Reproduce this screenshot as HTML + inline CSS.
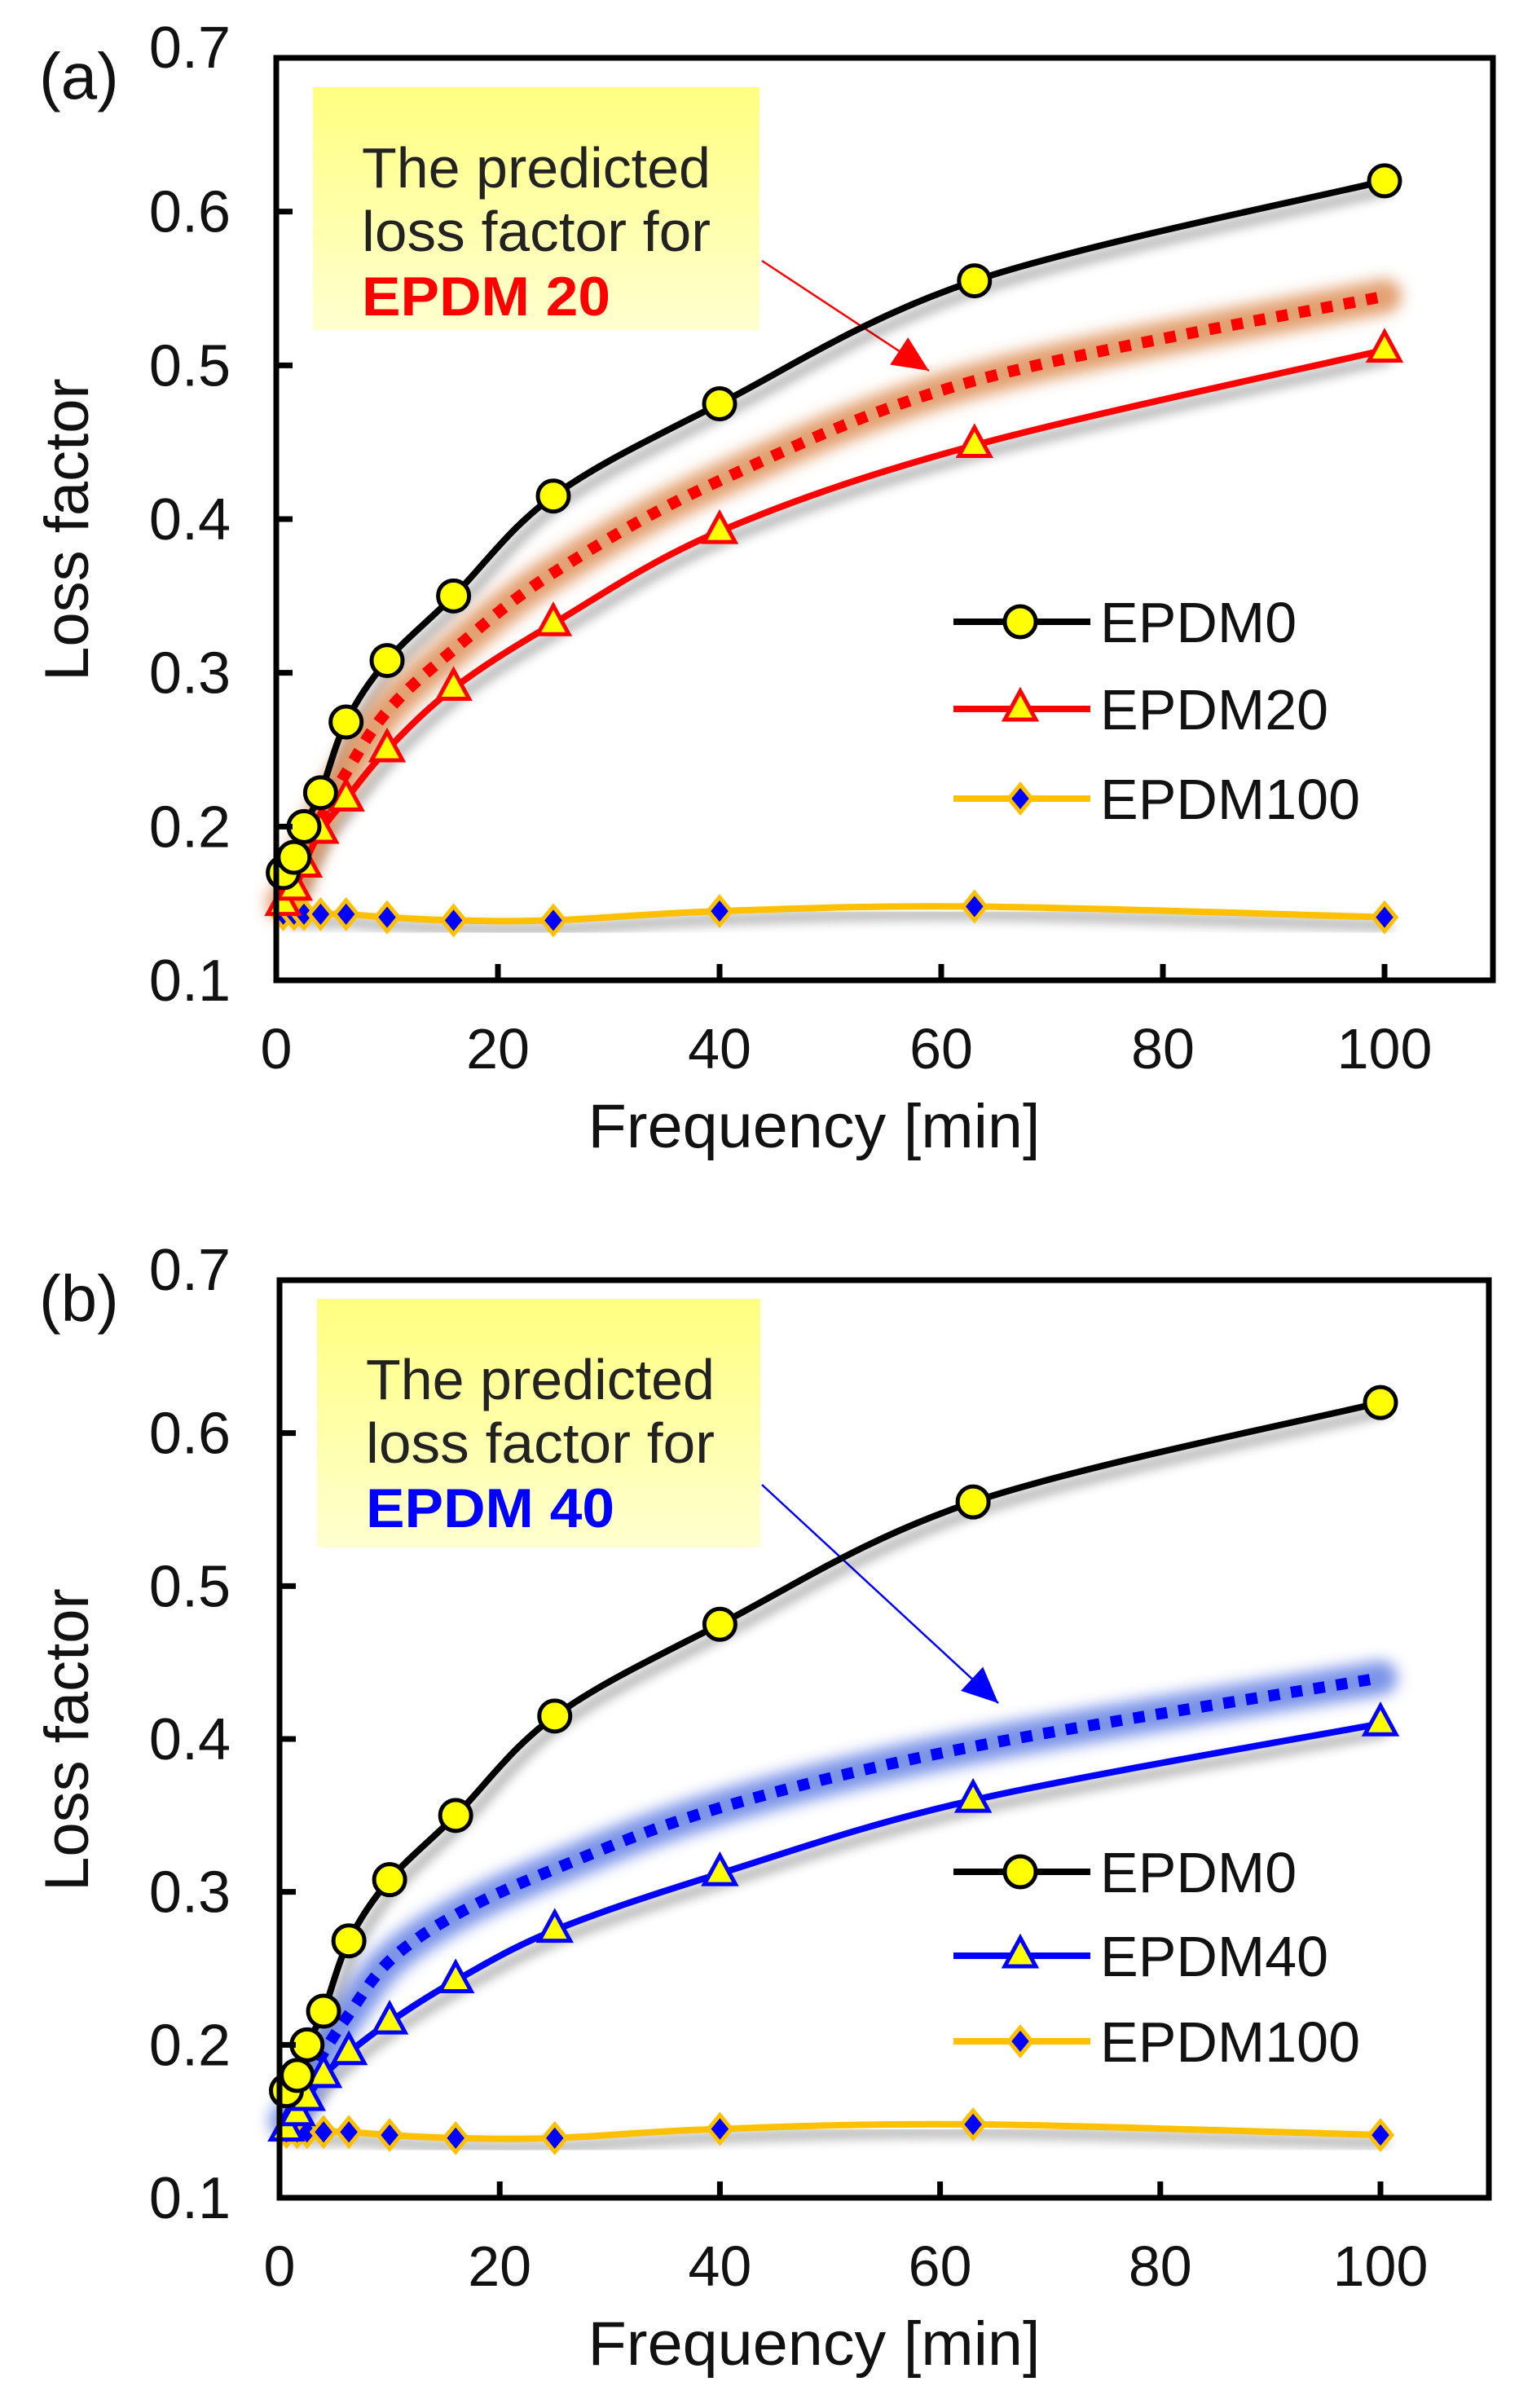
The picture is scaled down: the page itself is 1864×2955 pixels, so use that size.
<!DOCTYPE html>
<html><head><meta charset="utf-8">
<style>
html,body{margin:0;padding:0;background:#fff;}
svg{display:block;font-family:"Liberation Sans",Arial,sans-serif;}
</style></head>
<body>
<svg id="fig" width="1864" height="2955" viewBox="0 0 1864 2955" xmlns="http://www.w3.org/2000/svg">
<defs>
<filter id="shadow" x="-20%" y="-20%" width="140%" height="140%"><feGaussianBlur stdDeviation="7"/></filter>
<filter id="glow" x="-20%" y="-20%" width="140%" height="140%"><feGaussianBlur stdDeviation="9"/></filter>
<linearGradient id="yb" x1="0" y1="0" x2="0" y2="1"><stop offset="0" stop-color="#ffff80"/><stop offset="1" stop-color="#ffffd0"/></linearGradient>
</defs>
</svg>
<script>
const freq = [0.63,1.6,2.5,4,6.3,10,16,25,40,63,100];
const epdm0 = [0.17,0.18,0.2,0.222,0.268,0.308,0.35,0.415,0.475,0.555,0.62];
const epdm20 = [0.15,0.16,0.175,0.197,0.218,0.25,0.29,0.332,0.392,0.448,0.51];
const epdm40 = [0.145,0.155,0.165,0.18,0.195,0.215,0.242,0.275,0.312,0.36,0.41];
const epdm100 = [0.143,0.143,0.143,0.143,0.143,0.141,0.139,0.139,0.145,0.148,0.141];
const pred20 = [0.15,0.162,0.18,0.205,0.235,0.275,0.315,0.365,0.425,0.49,0.545];
const pred40 = [0.15,0.16,0.175,0.195,0.22,0.255,0.285,0.315,0.355,0.395,0.44];
const xTicks = [0,20,40,60,80,100];
const yTicks = [0.1,0.2,0.3,0.4,0.5,0.6,0.7];

const NS='http://www.w3.org/2000/svg';
const svg=document.getElementById('fig');
function mk(tag,attrs,parent){const e=document.createElementNS(NS,tag);for(const k in attrs)e.setAttribute(k,attrs[k]);(parent||svg).appendChild(e);return e;}
function smooth(pts){let d='M'+pts[0][0]+','+pts[0][1];for(let i=0;i<pts.length-1;i++){const p0=pts[Math.max(0,i-1)],p1=pts[i],p2=pts[i+1],p3=pts[Math.min(pts.length-1,i+2)];const c1=[p1[0]+(p2[0]-p0[0])/6,p1[1]+(p2[1]-p0[1])/6],c2=[p2[0]-(p3[0]-p1[0])/6,p2[1]-(p3[1]-p1[1])/6];d+=' C'+c1[0]+','+c1[1]+' '+c2[0]+','+c2[1]+' '+p2[0]+','+p2[1];}return d;}

function panel(cfg){
  const g=mk('g',{});
  
  
  const L=cfg.L,R=cfg.R,T=cfg.T,B=cfg.B,x100=cfg.x100;
  const sx=v=>L+(x100-L)*v/100;
  const sy=v=>B-(B-T)*(v-0.1)/0.6;
  const box=mk('rect',{x:cfg.bx,y:cfg.by,width:cfg.bw,height:cfg.bh,fill:'url(#yb)'},g);
  
  
  const lines=['The predicted','loss factor for'];
  lines.forEach((t,i)=>{const e=mk('text',{x:cfg.bx+60,y:cfg.by+(i===0?123:201),'font-size':70,fill:'#222',textLength:428,lengthAdjust:'spacingAndGlyphs'},g);e.textContent=t;
    
    });
  const em=mk('text',{x:cfg.bx+60,y:cfg.by+280,'font-size':68,'font-weight':'bold',fill:cfg.col,textLength:305,lengthAdjust:'spacingAndGlyphs'},g);em.textContent=cfg.label;
  
  
  const ar=mk('line',{x1:cfg.a[0],y1:cfg.a[1],x2:cfg.a[2],y2:cfg.a[3],stroke:cfg.col,'stroke-width':2.5},g);
  
  
  const ang=Math.atan2(cfg.a[3]-cfg.a[1],cfg.a[2]-cfg.a[0]);const hx=cfg.a[2],hy=cfg.a[3];
  const hl=44,hw=20;
  const bxp=hx-hl*Math.cos(ang),byp=hy-hl*Math.sin(ang);
  const head=mk('polygon',{points:`${hx},${hy} ${bxp-hw*Math.sin(ang)},${byp+hw*Math.cos(ang)} ${bxp+hw*Math.sin(ang)},${byp-hw*Math.cos(ang)}`,fill:cfg.col},g);
  
  
  const P=arr=>freq.map((f,i)=>[sx(f),sy(arr[i])]);
  const series=[{d:epdm0,c:'#000',m:'circle',n:'epdm0'},{d:cfg.mid,c:cfg.col,m:'tri',n:cfg.midName},{d:epdm100,c:'#ffc000',m:'dia',n:'epdm100'}];
  series.forEach(s=>{const sh=mk('path',{d:smooth(P(s.d).map(p=>[p[0]+8,p[1]+10])),fill:'none',stroke:'rgba(0,0,0,0.35)','stroke-width':11},g);sh.setAttribute('filter','url(#shadow)');
    
    });
  const gl=mk('path',{d:smooth(P(cfg.pred)),fill:'none',stroke:cfg.glow,'stroke-width':42,'stroke-linecap':'round',opacity:0.75,filter:'url(#glow)'},g);
  
  
  series.forEach(s=>{const ln=mk('path',{d:smooth(P(s.d)),fill:'none',stroke:s.c,'stroke-width':8},g);
    
    });
  const pl=mk('path',{d:smooth(P(cfg.pred)),fill:'none',stroke:cfg.col,'stroke-width':14,'stroke-dasharray':'14 14'},g);
  
  
  function marker(type,x,y,c,name){let e;
    if(type==='circle')e=mk('circle',{cx:x,cy:y,r:19,fill:'#ffff00',stroke:'#000','stroke-width':5},g);
    else if(type==='tri')e=mk('polygon',{points:`${x},${y-22} ${x+19},${y+13} ${x-19},${y+13}`,fill:'#ffff00',stroke:c,'stroke-width':5},g);
    else e=mk('polygon',{points:`${x},${y-17} ${x+14},${y} ${x},${y+17} ${x-14},${y}`,fill:'#0000ff',stroke:'#ffc000','stroke-width':5},g);
    
    }
  series.slice().reverse().forEach(s=>P(s.d).forEach(p=>marker(s.m,p[0],p[1],s.c,s.n+'-point')));
  const fr=mk('rect',{x:L,y:T,width:R-L,height:B-T,fill:'none',stroke:'#000','stroke-width':7},g);
  
  
  xTicks.forEach(v=>{const x=sx(v);const t=mk('line',{x1:x,y1:B,x2:x,y2:B-20,stroke:'#000','stroke-width':7},g);
    
    
    const lb=mk('text',{x:x,y:B+108,'font-size':70,'text-anchor':'middle',fill:'#111'},g);lb.textContent=v;
    
    });
  yTicks.forEach(v=>{const y=sy(v);const t=mk('line',{x1:L,y1:y,x2:L+20,y2:y,stroke:'#000','stroke-width':7},g);
    
    
    const lb=mk('text',{x:283,y:y+(v===0.7?12:25),'font-size':72,'text-anchor':'end',fill:'#111'},g);lb.textContent=v.toFixed(1);
    
    });
  const xt=mk('text',{x:cfg.xtX,y:B+205,'font-size':76,'text-anchor':'middle',fill:'#111',textLength:555,lengthAdjust:'spacingAndGlyphs'},g);xt.textContent='Frequency [min]';
  
  
  const yt=mk('text',{x:0,y:0,'font-size':76,'text-anchor':'middle',fill:'#111',transform:`translate(108,${cfg.ytY}) rotate(-90)`},g);yt.textContent='Loss factor';
  
  
  const pl2=mk('text',{x:48,y:T+50,'font-size':80,fill:'#111'},g);pl2.textContent=cfg.tag;
  
  
  const names=['EPDM0',cfg.legMid,'EPDM100'];
  series.forEach((s,i)=>{const y=cfg.legY[i];
    const ll=mk('line',{x1:1170,y1:y,x2:1338,y2:y,stroke:s.c,'stroke-width':8},g);
    
    
    marker(s.m,1252,y,s.c,'legend-marker');
    const lt=mk('text',{x:1350,y:y+25,'font-size':70,fill:'#111'},g);lt.textContent=names[i];
    
    });
}
panel({name:'panel-a',tag:'(a)',L:339,R:1832,T:71,B:1203,x100:1699,mid:epdm20,midName:'epdm20',pred:pred20,col:'#ff0000',glow:'#d98040',label:'EPDM 20',legMid:'EPDM20',
  bx:384,by:107,bw:548,bh:298,a:[935,320,1140,455],ytY:650,legY:[763,870,980],xtX:999});
panel({name:'panel-b',tag:'(b)',L:343,R:1827,T:1571,B:2697,x100:1694,mid:epdm40,midName:'epdm40',pred:pred40,col:'#0000ff',glow:'#5070e0',label:'EPDM 40',legMid:'EPDM40',
  bx:389,by:1594,bw:544,bh:305,a:[935,1822,1225,2090],ytY:2135,legY:[2297,2400,2505],xtX:999});
</script>
</body></html>
